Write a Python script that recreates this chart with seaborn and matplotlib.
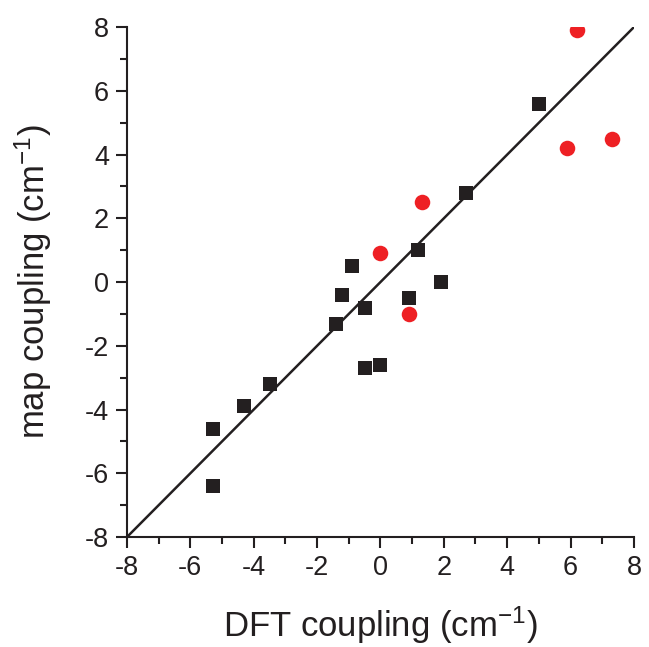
import matplotlib
matplotlib.use("Agg")
import matplotlib.pyplot as plt
import seaborn as sns
import pandas as pd
from matplotlib.ticker import MultipleLocator

# Data
sq_x = [-5.3, -5.3, -4.3, -3.5, -1.4, -1.2, -0.9, -0.5, -0.5, 0.0, 0.9, 1.2, 1.9, 2.7, 5.0]
sq_y = [-4.6, -6.4, -3.9, -3.2, -1.3, -0.4, 0.5, -0.8, -2.7, -2.6, -0.5, 1.0, 0.0, 2.8, 5.6]
ci_x = [0.0, 0.9, 1.3, 5.9, 6.2, 7.3]
ci_y = [0.9, -1.0, 2.5, 4.2, 7.9, 4.5]
line_x = [-8, 8]
line_y = [-8, 8]
ticks = [-8, -6, -4, -2, 0, 2, 4, 6, 8]

sns.set_style("ticks")
plt.rcParams['font.family'] = ['Liberation Sans', 'DejaVu Sans']
plt.rcParams['mathtext.fontset'] = 'custom'
plt.rcParams['mathtext.rm'] = 'Liberation Sans'
plt.rcParams['mathtext.it'] = 'Liberation Sans'

df_sq = pd.DataFrame({"x": sq_x, "y": sq_y})
df_ci = pd.DataFrame({"x": ci_x, "y": ci_y})
df_line = pd.DataFrame({"x": line_x, "y": line_y})

fig = plt.figure(figsize=(6.49, 6.47), dpi=100)
ax = fig.add_axes([0.1957, 0.170, 0.781, 0.788])

black = "#231F20"
red = "#EE2024"
sns.lineplot(data=df_line, x="x", y="y", ax=ax, color=black, linewidth=1.8)
sns.scatterplot(data=df_sq, x="x", y="y", ax=ax, marker="s", color=black, s=100, linewidth=0, zorder=3)
sns.scatterplot(data=df_ci, x="x", y="y", ax=ax, marker="o", color=red, s=125, linewidth=0, zorder=3)

ax.set_xlim(-8, 8)
ax.set_ylim(-8, 8)
ax.set_xticks(ticks)
ax.set_yticks(ticks)
ax.set_xticklabels([str(t) for t in ticks])
ax.set_yticklabels([str(t) for t in ticks])
ax.xaxis.set_minor_locator(MultipleLocator(1))
ax.yaxis.set_minor_locator(MultipleLocator(1))
sns.despine(ax=ax)
for s in ["left", "bottom"]:
    ax.spines[s].set_linewidth(1.5)
    ax.spines[s].set_color(black)
ax.tick_params(which="major", direction="out", length=8, width=1.5, labelsize=19.5, color=black, labelcolor=black, pad=5)
ax.tick_params(which="minor", direction="out", length=5, width=1.5, color=black)

ax.set_xlabel("DFT coupling (cm$^{-1}$)", fontsize=25, color=black, labelpad=17)
ax.set_ylabel("map coupling (cm$^{-1}$)", fontsize=25, color=black, labelpad=22)

fig.savefig("out.png", dpi=100)
